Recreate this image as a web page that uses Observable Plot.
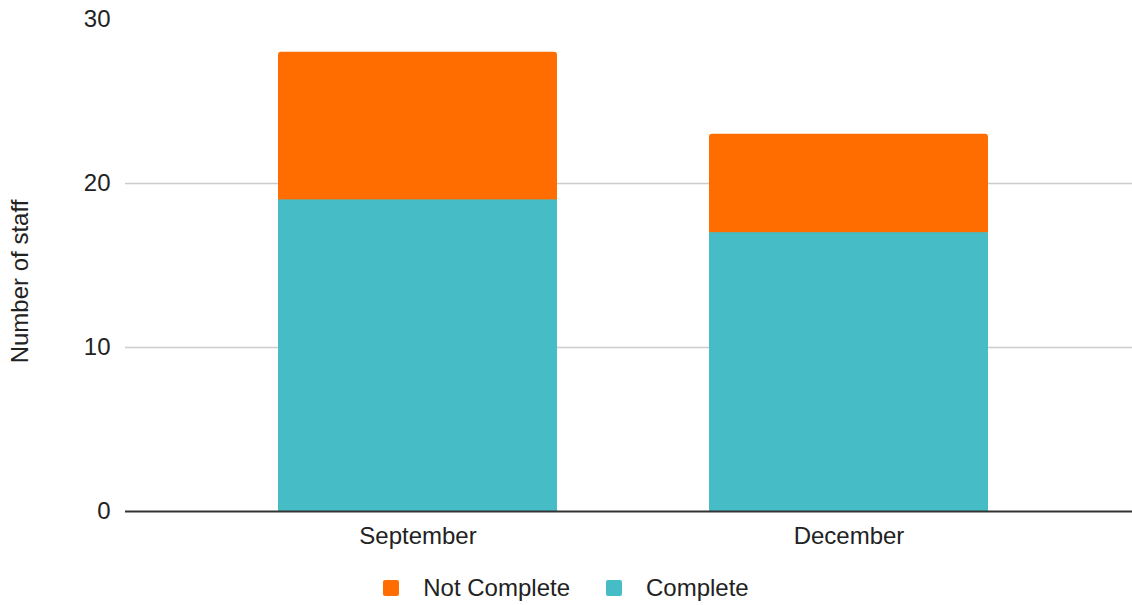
<!DOCTYPE html>
<html>
<head>
<meta charset="utf-8">
<script src="https://cdn.jsdelivr.net/npm/d3@7"></script>
<script src="https://cdn.jsdelivr.net/npm/@observablehq/plot@0.6"></script>
<style>
  html, body { margin: 0; padding: 0; background: #fff; }
  body { width: 1132px; height: 605px; overflow: hidden; font-family: "Liberation Sans", Arial, sans-serif; }
  #legend { display: flex; justify-content: center; align-items: center; height: 54px; font-size: 24px; color: #222; }
  .item { display: flex; align-items: center; margin: 0 18px; }
  .sw { width: 16px; height: 16px; border-radius: 2px; margin-right: 24px; }
</style>
</head>
<body>
<div id="chart"></div>
<div id="legend"></div>
<script>
const months = ["September", "December"];
const complete = [19, 17];
const notComplete = [9, 6];
const seriesNames = ["Not Complete", "Complete"];
const seriesColors = ["#ff6d01", "#46bdc6"];
const yTicks = [0, 10, 20, 30];
const gridTicks = [10, 20];

const rows = months.map((m, i) => ({month: m, complete: complete[i], total: complete[i] + notComplete[i]}));

const plot = Plot.plot({
  width: 1132,
  height: 561,
  marginLeft: 125,
  marginRight: -9,
  marginTop: 19,
  marginBottom: 50,
  style: {fontFamily: "'Liberation Sans', Arial, sans-serif", fontSize: "24px", color: "#222", background: "#fff", overflow: "hidden"},
  x: {domain: months, padding: 0.352, label: null},
  y: {domain: [0, 30], label: null},
  marks: [
    Plot.ruleY(gridTicks, {stroke: "#cccccc", strokeWidth: 1.5}),
    Plot.barY(rows, {x: "month", y: "total", fill: seriesColors[0], rx: 3}),
    Plot.barY(rows, {x: "month", y: "complete", fill: seriesColors[1]}),
    Plot.ruleY([0], {stroke: "#333", strokeWidth: 2}),
    Plot.axisY({ticks: yTicks, tickSize: 0, tickPadding: 15, label: null, fontSize: 24}),
    Plot.axisX({tickSize: 0, tickPadding: 15, label: null, fontSize: 24}),
    Plot.text(["Number of staff"], {frameAnchor: "left", textAnchor: "middle", rotate: -90, dx: -105, dy: 16, fontSize: 24, fill: "#222"})
  ]
});
document.getElementById("chart").appendChild(plot);

const legend = document.getElementById("legend");
seriesNames.forEach((name, i) => {
  const item = document.createElement("div");
  item.className = "item";
  const sw = document.createElement("div");
  sw.className = "sw";
  sw.style.background = seriesColors[i];
  const t = document.createElement("span");
  t.textContent = name;
  item.appendChild(sw);
  item.appendChild(t);
  legend.appendChild(item);
});
</script>
</body>
</html>
